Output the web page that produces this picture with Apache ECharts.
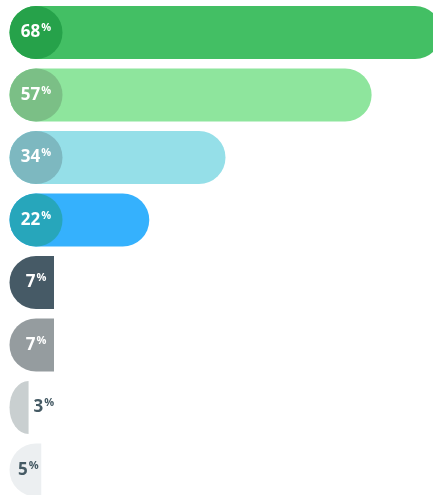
<!DOCTYPE html>
<html>
<head>
<meta charset="utf-8">
<script src="https://cdn.jsdelivr.net/npm/echarts@6/dist/echarts.min.js"></script>
<style>
html,body{margin:0;padding:0;background:#fff;}
#chart{width:433px;height:495px;}
</style>
</head>
<body>
<div id="chart"></div>
<script>
const categories = ['1', '2', '3', '4', '5', '6', '7', '8'];
const values = [68, 57, 34, 22, 7, 7, 3, 5];
const barColors = ['#43bf64', '#8ee59d', '#95dfe8', '#35b1fd', '#465a66', '#959c9f', '#c9cfd0', '#eceff1'];
const circleColors = ['#26a24a', '#7bbf86', '#7db8c0', '#27a6bb', '#465a66', '#959c9f', '#c9cfd0', '#eceff1'];
const textColors = ['#ffffff', '#ffffff', '#ffffff', '#ffffff', '#ffffff', '#ffffff', '#455a64', '#455a64'];

const chart = echarts.init(document.getElementById('chart'), null, {renderer: 'canvas'});

function renderItem(params, api) {
  const idx = api.value(0);
  const v = api.value(1);
  const p0 = api.coord([0, idx]);
  const p1 = api.coord([v, idx]);
  const band = api.size([0, 1])[1];
  const h = band * 0.848;
  const r = h / 2;
  const yc = p0[1];
  const x0 = p0[0];
  const x1 = p1[0];
  const w = x1 - x0;
  const children = [];
  if (w >= 2 * r) {
    children.push({
      type: 'rect',
      shape: {x: x0, y: yc - r, width: w, height: h, r: r},
      style: {fill: barColors[idx]}
    });
    children.push({
      type: 'circle',
      shape: {cx: x0 + r, cy: yc, r: r},
      style: {fill: circleColors[idx]}
    });
  } else {
    const rx = Math.min(w, r);
    const pd = 'M' + (x0 + rx) + ' ' + (yc - r) +
      ' L' + x1 + ' ' + (yc - r) +
      ' L' + x1 + ' ' + (yc + r) +
      ' L' + (x0 + rx) + ' ' + (yc + r) +
      ' A' + rx + ' ' + r + ' 0 0 1 ' + (x0 + rx) + ' ' + (yc - r) + ' Z';
    children.push({
      type: 'path',
      shape: {pathData: pd},
      style: {fill: circleColors[idx]}
    });
  }
  let tx, align;
  if (w >= 40) { tx = x0 + r; align = 'center'; }
  else if (w >= r) { tx = (x0 + x1) / 2 + 3; align = 'center'; }
  else { tx = x1 + 5; align = 'left'; }
  children.push({
    type: 'text',
    style: {
      text: '{a|' + v + '}{b|%}',
      x: tx,
      y: yc,
      align: align,
      verticalAlign: 'middle',
      fill: textColors[idx],
      rich: {
        a: {fontFamily: 'Open Sans', fontWeight: 'bold', fontSize: 17, lineHeight: 20, fill: textColors[idx]},
        b: {fontFamily: 'Open Sans', fontWeight: 'bold', fontSize: 11, lineHeight: 11, verticalAlign: 'top', padding: [0, 0, 0, 1], fill: textColors[idx]}
      }
    }
  });
  return {type: 'group', children: children};
}

chart.setOption({
  animation: false,
  grid: {left: 9.5, top: 1.25, width: 432, height: 500, containLabel: false, outerBoundsMode: 'none'},
  xAxis: {type: 'value', min: 0, max: 68, show: false},
  yAxis: {type: 'category', data: categories, inverse: true, show: false},
  series: [{
    type: 'custom',
    clip: false,
    renderItem: renderItem,
    encode: {x: 1, y: 0},
    data: values.map((v, i) => [i, v])
  }]
});
</script>
</body>
</html>
